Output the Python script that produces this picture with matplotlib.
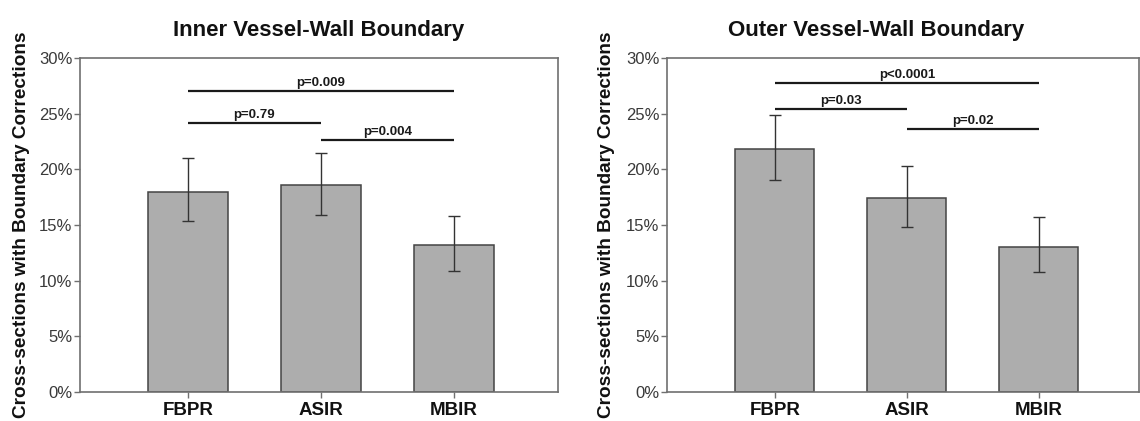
import matplotlib
matplotlib.use("Agg")
import matplotlib.pyplot as plt
from matplotlib.ticker import FuncFormatter

plt.rcParams['font.family'] = ['Liberation Sans', 'DejaVu Sans']

categories = ["FBPR", "ASIR", "MBIR"]

inner_values = [18.0, 18.6, 13.2]
inner_err_low = [15.4, 15.9, 10.9]
inner_err_high = [21.0, 21.5, 15.8]

outer_values = [21.85, 17.4, 13.05]
outer_err_low = [19.0, 14.8, 10.8]
outer_err_high = [24.9, 20.3, 15.7]

inner_brackets = [(0, 2, 27.0, "p=0.009"), (0, 1, 24.15, "p=0.79"), (1, 2, 22.65, "p=0.004")]
outer_brackets = [(0, 2, 27.75, "p<0.0001"), (0, 1, 25.4, "p=0.03"), (1, 2, 23.6, "p=0.02")]

titles = ["Inner Vessel-Wall Boundary", "Outer Vessel-Wall Boundary"]
ylabel = "Cross-sections with Boundary Corrections"
yticks = [0, 5, 10, 15, 20, 25, 30]

fig = plt.figure(figsize=(11.4, 4.21), dpi=100)
ax1 = fig.add_axes([80/1140, 1-392/421, 478/1140, 334/421])
ax2 = fig.add_axes([667/1140, 1-392/421, 472/1140, 334/421])

panels = [
    (ax1, inner_values, inner_err_low, inner_err_high, inner_brackets, titles[0], (-0.81, 2.78), 0.5, -0.104),
    (ax2, outer_values, outer_err_low, outer_err_high, outer_brackets, titles[1], (-0.818, 2.76), 0.443, -0.11),
]

spine_col = "#707070"
for ax, vals, lo, hi, brackets, title, xlim, tx, lx in panels:
    x = list(range(len(categories)))
    yerr = [[v - l for v, l in zip(vals, lo)], [h - v for v, h in zip(vals, hi)]]
    ax.bar(x, vals, width=0.6, color="#adadad", edgecolor="#444444", linewidth=1.1, zorder=2)
    ax.errorbar(x, vals, yerr=yerr, fmt="none", ecolor="#333333", elinewidth=1.0,
                capsize=4, capthick=1.0, zorder=3)
    for i, j, y, lab in brackets:
        ax.plot([i, j], [y, y], color="#1a1a1a", lw=1.6, solid_capstyle="butt", zorder=4)
        ax.text((i + j) / 2, y + 0.2, lab, ha="center", va="bottom", fontsize=9.5,
                fontweight="bold", color="#1a1a1a")
    ax.set_xlim(*xlim)
    ax.set_ylim(0, 30)
    ax.set_yticks(yticks)
    ax.yaxis.set_major_formatter(FuncFormatter(lambda v, p: f"{int(v)}%"))
    ax.set_xticks(x)
    ax.set_xticklabels(categories, fontsize=13.5, fontweight="bold", color="#111111")
    ax.tick_params(axis="y", labelsize=12, colors=spine_col, labelcolor="#3a3a3a",
                   length=4, direction="out", width=1, pad=1.5)
    ax.tick_params(axis="x", length=4, direction="out", width=1, colors=spine_col,
                   labelcolor="#111111", pad=3.5)
    for s in ax.spines.values():
        s.set_color(spine_col)
        s.set_linewidth(1.2)
    ax.set_title(title, fontsize=16, fontweight="bold", color="#111111", x=tx, pad=16)
    ax.set_ylabel(ylabel, fontsize=13.7, fontweight="bold", color="#111111")
    ax.yaxis.set_label_coords(lx, 0.5)

fig.savefig("out.png", dpi=100)
